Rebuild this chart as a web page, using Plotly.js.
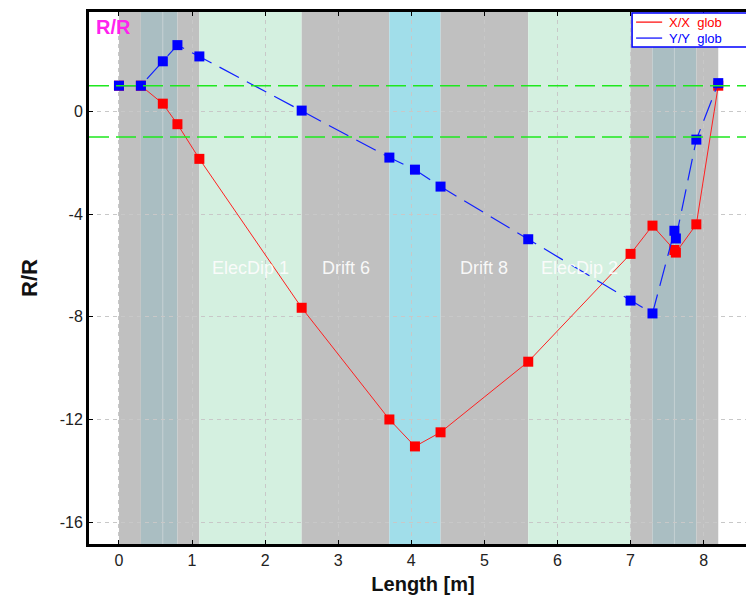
<!DOCTYPE html>
<html>
<head>
<meta charset="utf-8">
<script src="https://cdn.plot.ly/plotly-3.0.1.min.js"></script>
<style>
html,body{margin:0;padding:0;overflow:hidden;background:#fff;}
#chart{width:760px;height:596px;}
</style>
</head>
<body>
<div id="chart"></div>
<script>
// Positions along the beamline [m]
var xPos = [0, 0.3, 0.6, 0.8, 1.1, 2.5, 3.7, 4.05, 4.4, 5.6, 7.0, 7.3, 7.6, 7.62, 7.9, 8.2];
// X/X glob
var xxGlob = [1.0, 1.0, 0.3, -0.5, -1.85, -7.65, -12.0, -13.05, -12.5, -9.75, -5.55, -4.45, -5.4, -5.5, -4.4, 1.0];
// Y/Y glob
var yyGlob = [1.0, 1.0, 1.95, 2.58, 2.14, 0.03, -1.8, -2.27, -2.93, -4.98, -7.37, -7.87, -4.65, -4.95, -1.1, 1.1];

// Beamline elements (background bands)
var bandStart = [0.0, 0.3, 0.6, 0.8, 1.1, 2.5, 3.7, 4.4, 5.6, 7.0, 7.3, 7.6, 7.9];
var bandEnd   = [0.3, 0.6, 0.8, 1.1, 2.5, 3.7, 4.4, 5.6, 7.0, 7.3, 7.6, 7.9, 8.2];
var bandKind  = ['drift','quad','quad','drift','dip','drift','sol','drift','dip','drift','quad','quad','drift'];
var bandLabel = ['', '', '', '', 'ElecDip 1', 'Drift 6', '', 'Drift 8', 'ElecDip 2', '', '', '', ''];

var kindColor = {drift:'#c0c0c0', quad:'#aabec2', dip:'#d4f0e0', sol:'#a1deea'};

var limitLines = [1, -1];
var yTicks = [0, -4, -8, -12, -16];
var xTicks = [0, 1, 2, 3, 4, 5, 6, 7, 8];

var seriesNames = ['X/X\u00a0\u00a0glob', 'Y/Y\u00a0\u00a0glob'];
var seriesColors = ['#ff0000', '#0000ff'];

var shapes = [];
for (var i = 0; i < bandStart.length; i++) {
  shapes.push({type:'rect', layer:'below', xref:'x', yref:'paper',
    x0:bandStart[i], x1:bandEnd[i], y0:0, y1:1,
    fillcolor:kindColor[bandKind[i]], line:{width:0}});
}
// thin separators between adjacent quads
for (var i = 1; i < bandStart.length; i++) {
  if (bandKind[i] === 'quad' && bandKind[i-1] === 'quad') {
    shapes.push({type:'line', layer:'below', xref:'x', yref:'paper',
      x0:bandStart[i], x1:bandStart[i], y0:0, y1:1,
      line:{color:'#c3cfd1', width:1}});
  }
}
limitLines.forEach(function(v){
  shapes.push({type:'line', layer:'above', xref:'paper', yref:'y',
    x0:0, x1:1, y0:v, y1:v, line:{color:'#1ee81e', width:1.4, dash:'20px,7px'}});
});

// legend box (drawn manually to match compact style)
shapes.push({type:'rect', layer:'above', xref:'paper', yref:'paper',
  x0:0.813, x1:1.02, y0:0.934, y1:0.998, fillcolor:'#ffffff', line:{color:'#0000ff', width:1.5}});

var annotations = [];
for (var i = 0; i < bandStart.length; i++) {
  if (bandLabel[i]) {
    annotations.push({x:(bandStart[i]+bandEnd[i])/2, y:-6.1, xref:'x', yref:'y',
      text:bandLabel[i], showarrow:false,
      font:{family:'Liberation Sans, Arial, sans-serif', size:18, color:'rgba(252,252,252,0.95)'}});
  }
}
annotations.push({xref:'paper', yref:'paper', x:0.008, y:0.997, xanchor:'left', yanchor:'top',
  text:'<b>R/R</b>', showarrow:false,
  font:{family:'Liberation Sans, Arial, sans-serif', size:20, color:'#ff22ee'}});

var legendRowY = [0.981, 0.951];
for (var k = 0; k < seriesNames.length; k++) {
  shapes.push({type:'line', layer:'above', xref:'paper', yref:'paper',
    x0:0.819, x1:0.858, y0:legendRowY[k], y1:legendRowY[k],
    line:{color:seriesColors[k], width:1.2}});
  annotations.push({xref:'paper', yref:'paper', x:0.866, y:legendRowY[k],
    xanchor:'left', yanchor:'middle', text:seriesNames[k], showarrow:false,
    font:{family:'Liberation Sans, Arial, sans-serif', size:13, color:seriesColors[k]}});
}

var traces = [
  {x:xPos, y:xxGlob, type:'scatter', mode:'lines+markers', name:seriesNames[0], showlegend:false,
   line:{color:'#ff2020', width:1}, marker:{symbol:'square', size:10, color:'#ff0000'}},
  {x:xPos, y:yyGlob, type:'scatter', mode:'lines+markers', name:seriesNames[1], showlegend:false,
   line:{color:'#1020ff', width:1.2, dash:'22px,9px'}, marker:{symbol:'square', size:10, color:'#0000ff'}}
];

var layout = {
  width:760, height:596,
  margin:{l:89, r:3, t:12, b:52},
  paper_bgcolor:'#ffffff', plot_bgcolor:'#ffffff',
  font:{family:'Liberation Sans, Arial, sans-serif', size:16, color:'#222'},
  showlegend:false,
  xaxis:{range:[-0.41, 8.73], tickmode:'array', tickvals:xTicks, ticktext:xTicks.map(String),
    showgrid:true, gridcolor:'#c8c8c8', griddash:'4px,4px', gridwidth:1, zeroline:false,
    showline:true, linecolor:'#000', linewidth:3, mirror:'ticks',
    ticks:'inside', ticklen:4, tickcolor:'#000',
    tickfont:{size:16, color:'#222'},
    title:{text:'<b>Length [m]</b>', font:{size:20, color:'#111'}, standoff:9}},
  yaxis:{range:[-16.85, 3.87], tickmode:'array', tickvals:yTicks, ticktext:yTicks.map(String),
    showgrid:true, gridcolor:'#c8c8c8', griddash:'4px,4px', gridwidth:1, zeroline:false,
    showline:true, linecolor:'#000', linewidth:3, mirror:false,
    ticks:'inside', ticklen:4, tickcolor:'#000',
    tickfont:{size:16, color:'#222'},
    title:{text:'<b>R/R</b>', font:{size:22, color:'#111'}, standoff:16}},
  shapes:shapes,
  annotations:annotations
};

Plotly.newPlot('chart', traces, layout, {displayModeBar:false, staticPlot:true});
</script>
</body>
</html>
